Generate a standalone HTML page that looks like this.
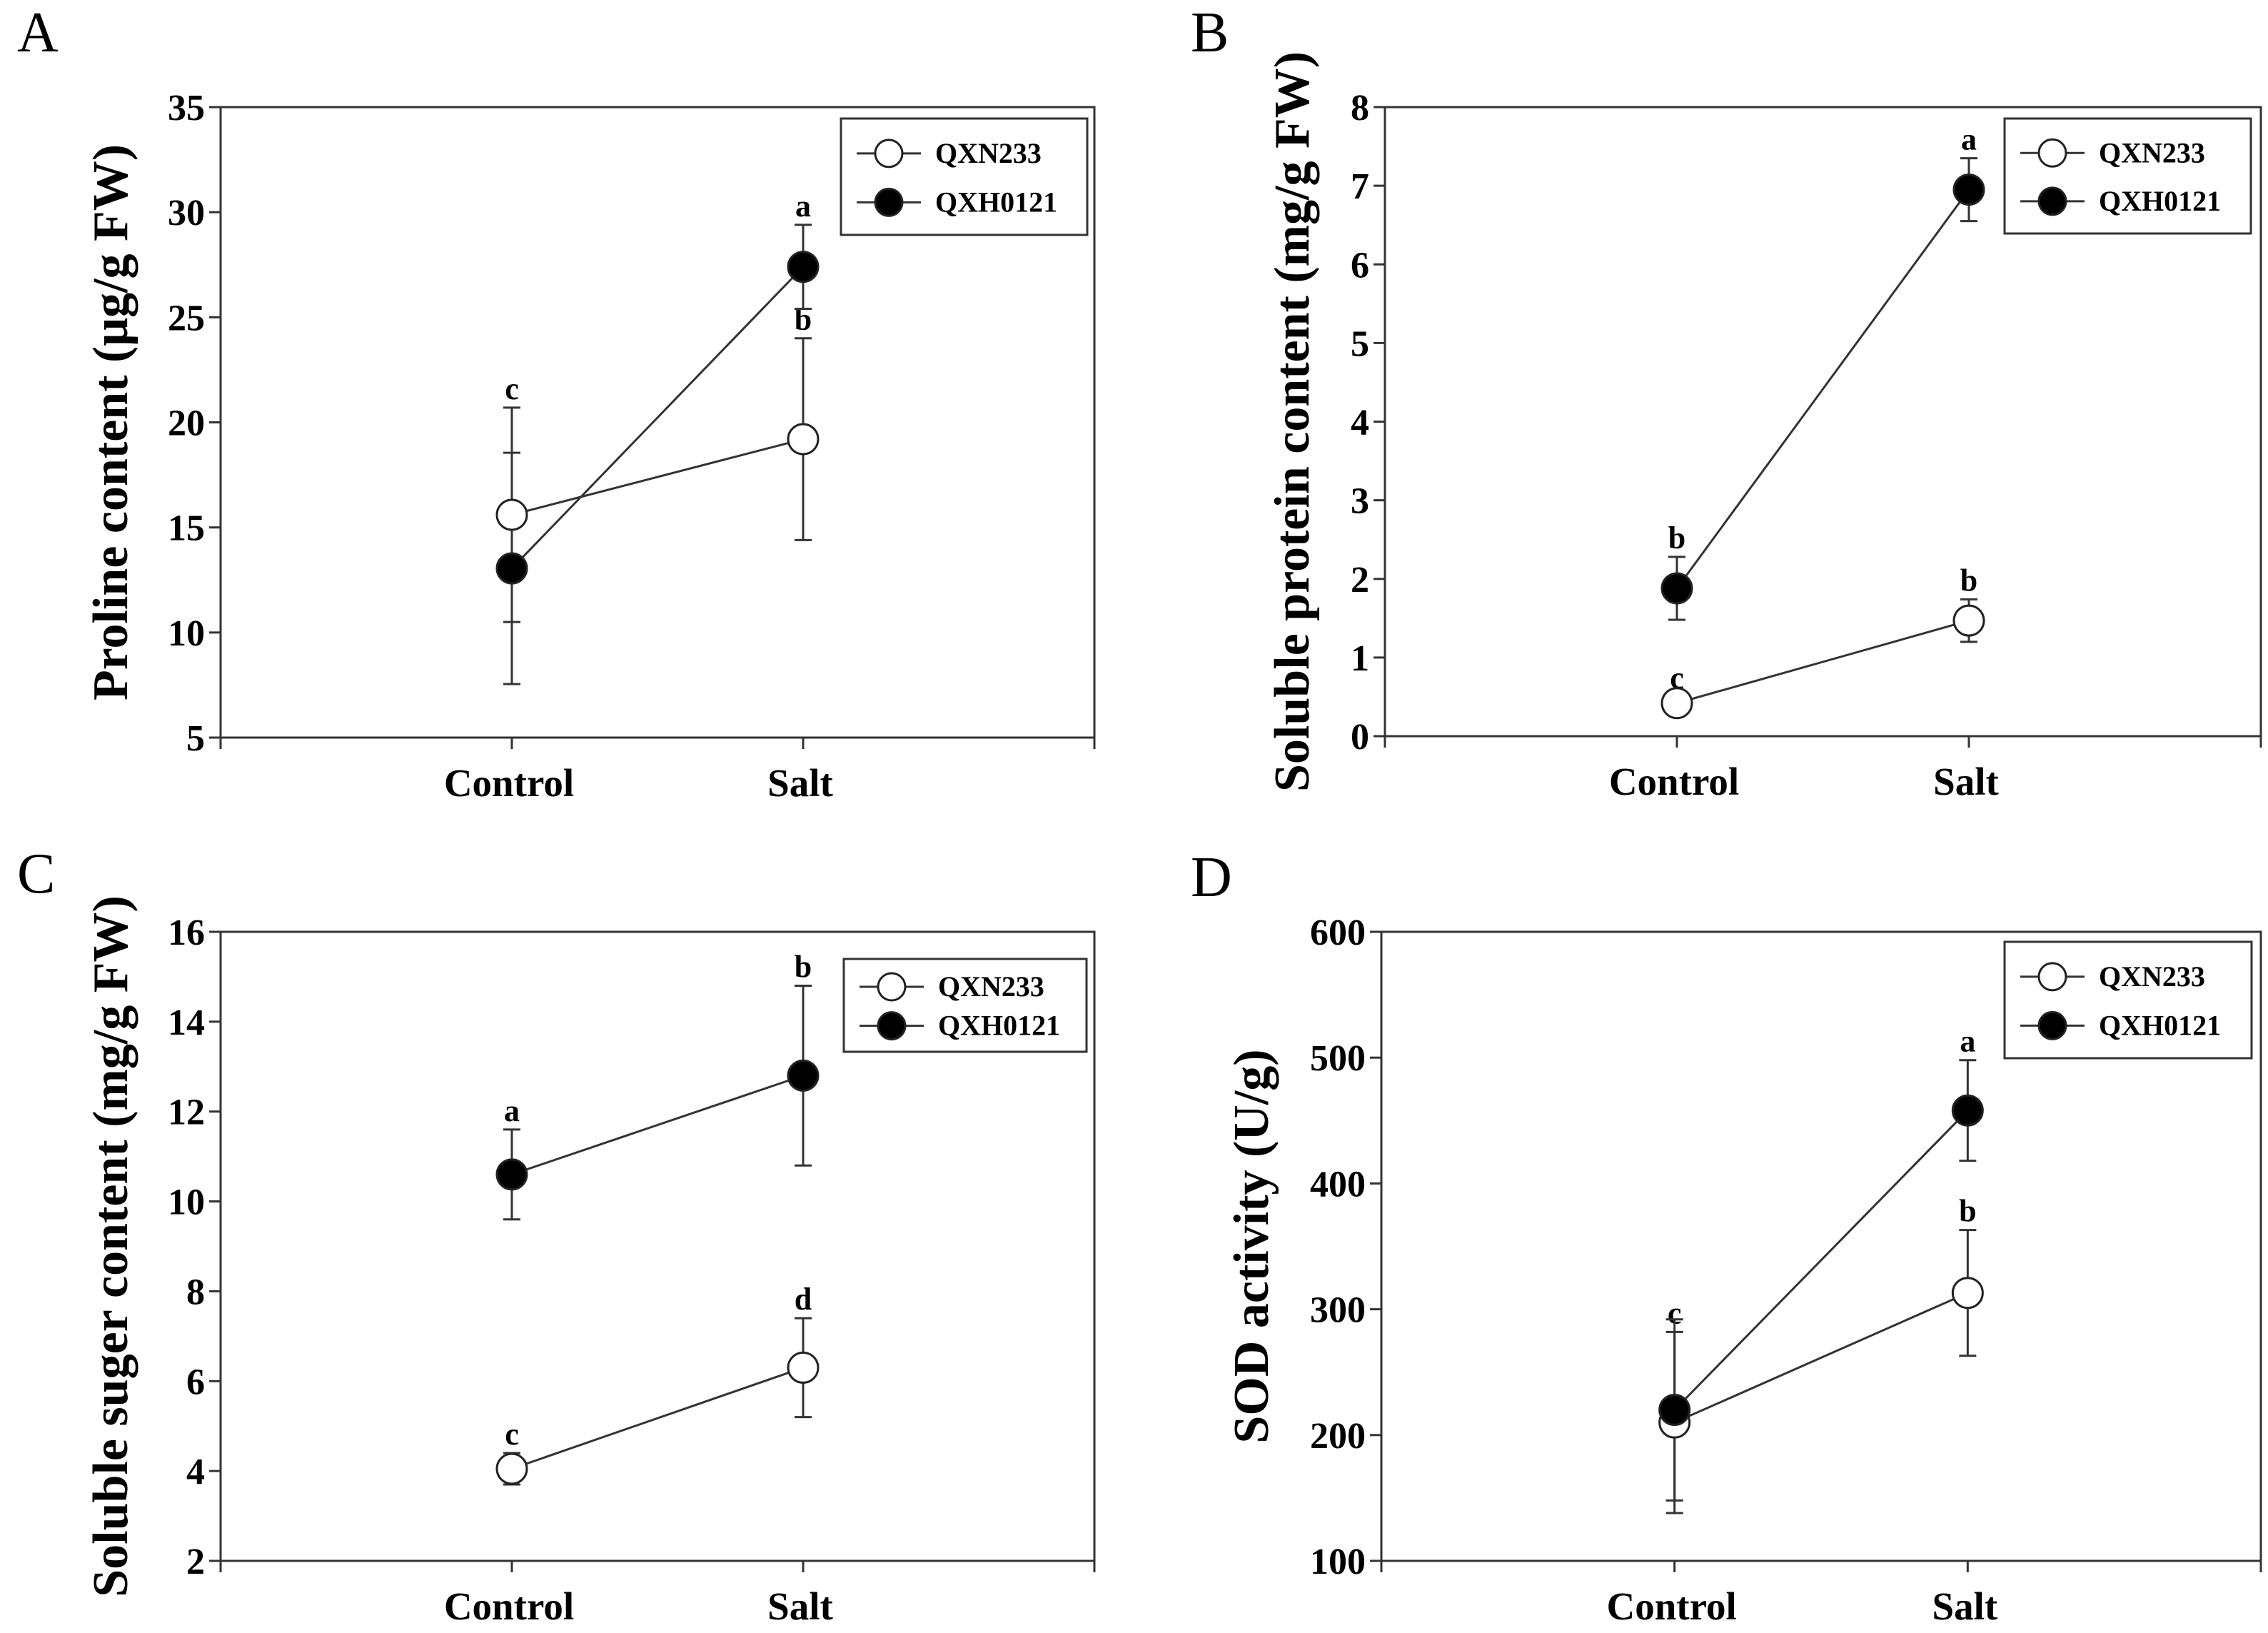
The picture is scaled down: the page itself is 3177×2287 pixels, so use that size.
<!DOCTYPE html>
<html><head><meta charset="utf-8">
<style>
html,body{margin:0;padding:0;background:#fff;}
svg{display:block;}
text{font-family:"Liberation Serif",serif;fill:#000;}
.tick{font-weight:bold;font-size:52px;}
.ttl{font-weight:bold;font-size:70px;}
.cat{font-weight:bold;font-size:55px;}
.leg{font-weight:bold;font-size:40px;}
.let{font-weight:bold;font-size:44px;}
.pl{font-size:80px;}
</style></head>
<body>
<svg id="fig" width="3177" height="2287" viewBox="0 0 3177 2287" xmlns="http://www.w3.org/2000/svg"></svg>
<script>
// Categories
const categories = ["Control","Salt"];
const seriesNames = ["QXN233","QXH0121"];

// Panel A: Proline
const aTicks = [5,10,15,20,25,30,35];
const aQXN = [15.6,19.2];
const aQXNerr = [5.1,4.8];
const aQXH = [13.05,27.4];
const aQXHerr = [5.5,2.0];
const aLettersQXN = ["c","b"];
const aLettersQXH = ["","a"];

// Panel B: Soluble protein
const bTicks = [0,1,2,3,4,5,6,7,8];
const bQXN = [0.42,1.47];
const bQXNerr = [0.08,0.27];
const bQXH = [1.88,6.95];
const bQXHerr = [0.4,0.4];
const bLettersQXN = ["c","b"];
const bLettersQXH = ["b","a"];

// Panel C: Soluble sugar
const cTicks = [2,4,6,8,10,12,14,16];
const cQXN = [4.05,6.3];
const cQXNerr = [0.35,1.1];
const cQXH = [10.6,12.8];
const cQXHerr = [1.0,2.0];
const cLettersQXN = ["c","d"];
const cLettersQXH = ["a","b"];

// Panel D: SOD
const dTicks = [100,200,300,400,500,600];
const dQXN = [210,313];
const dQXNerr = [72,50];
const dQXH = [220,458];
const dQXHerr = [72,40];
const dLettersQXN = ["c","b"];
const dLettersQXH = ["","a"];

const NS="http://www.w3.org/2000/svg";
const svg=document.getElementById('fig');
function mk(tag,attrs,parent){const e=document.createElementNS(NS,tag);for(const k in attrs)e.setAttribute(k,attrs[k]);(parent||svg).appendChild(e);return e;}

function panel(cfg){
  const g=mk('g',{});
  
  
  const {L,R,T,B}=cfg;
  const ymin=cfg.ticks[0], ymax=cfg.ticks[cfg.ticks.length-1];
  const y=v=>B-(v-ymin)/(ymax-ymin)*(B-T);
  const x=i=>L+(i+1)/3*(R-L);
  const pl=mk('text',{x:cfg.plx,y:cfg.ply,class:'pl'},g);pl.textContent=cfg.letter;
  
  
  const fr=mk('rect',{x:L,y:T,width:R-L,height:B-T,fill:'none',stroke:'#333',"stroke-width":3},g);
  
  
  cfg.ticks.forEach(t=>{
    mk('line',{x1:L-16,x2:L,y1:y(t),y2:y(t),stroke:'#333',"stroke-width":3},g);
    const tx=mk('text',{x:L-22,y:y(t)+18,class:'tick',"text-anchor":'end'},g);tx.textContent=t;
    
    
  });
  for(let i=-1;i<=2;i++){mk('line',{x1:x(i),x2:x(i),y1:B,y2:B+16,stroke:'#333',"stroke-width":3},g);}
  categories.forEach((c,i)=>{
    const tx=mk('text',{x:x(i)-4,y:B+82,class:'cat',"text-anchor":'middle'},g);tx.textContent=c;
    
    
  });
  const yt=mk('text',{x:0,y:0,class:'ttl',"text-anchor":'middle',transform:`translate(${cfg.tx},${(T+B)/2}) rotate(-90)`},g);
  yt.textContent=cfg.title;
  
  
  const series=[[cfg.qxn,cfg.qxnErr,'#fff',cfg.lq],[cfg.qxh,cfg.qxhErr,'#000',cfg.lh]];
  series.forEach(([vals,errs,fill,lets],si)=>{
    const sg=mk('g',{},g);
    
    
    mk('line',{x1:x(0),y1:y(vals[0]),x2:x(1),y2:y(vals[1]),stroke:'#333',"stroke-width":3},sg);
    vals.forEach((v,i)=>{
      const hi=y(v+errs[i]), lo=y(v-errs[i]);
      mk('line',{x1:x(i),x2:x(i),y1:hi,y2:lo,stroke:'#333',"stroke-width":3},sg);
      mk('line',{x1:x(i)-12,x2:x(i)+12,y1:hi,y2:hi,stroke:'#333',"stroke-width":3},sg);
      mk('line',{x1:x(i)-12,x2:x(i)+12,y1:lo,y2:lo,stroke:'#333',"stroke-width":3},sg);
      if(lets[i]){
        const lt=mk('text',{x:x(i),y:hi-12,class:'let',"text-anchor":'middle'},sg);lt.textContent=lets[i];
        
        
      }
    });
  });
  series.forEach(([vals,errs,fill],si)=>{
    vals.forEach((v,i)=>{
      const c=mk('circle',{cx:x(i),cy:y(v),r:21,fill:fill,stroke:'#222',"stroke-width":3},g);
      
      
    });
  });
  const lg=mk('g',{},g);
  
  
  const [lx,ly,lw,lh]=cfg.leg;
  mk('rect',{x:lx,y:ly,width:lw,height:lh,fill:'#fff',stroke:'#333',"stroke-width":3},lg);
  seriesNames.forEach((n,i)=>{
    const cy=ly+lh*(0.3+0.42*i);
    mk('line',{x1:lx+22,x2:lx+112,y1:cy,y2:cy,stroke:'#333',"stroke-width":3},lg);
    mk('circle',{cx:lx+67,cy:cy,r:19,fill:i?'#000':'#fff',stroke:'#222',"stroke-width":3},lg);
    const t=mk('text',{x:lx+132,y:cy+13,class:'leg'},lg);t.textContent=n;
    
    
  });
}

panel({name:'panel-a-proline',letter:'A',plx:24,ply:72,L:309,R:1533,T:150,B:1033,ticks:aTicks,
  title:'Proline content (\u03bcg/g FW)',tx:178,qxn:aQXN,qxnErr:aQXNerr,qxh:aQXH,qxhErr:aQXHerr,lq:aLettersQXN,lh:aLettersQXH,
  leg:[1178,166,345,163]});
panel({name:'panel-b-protein',letter:'B',plx:1668,ply:72,L:1940,R:3167,T:150,B:1031,ticks:bTicks,
  title:'Soluble protein content (mg/g FW)',tx:1833,qxn:bQXN,qxnErr:bQXNerr,qxh:bQXH,qxhErr:bQXHerr,lq:bLettersQXN,lh:bLettersQXH,
  leg:[2808,166,345,161]});
panel({name:'panel-c-sugar',letter:'C',plx:24,ply:1250,L:309,R:1533,T:1305,B:2186,ticks:cTicks,
  title:'Soluble suger content (mg/g FW)',tx:178,qxn:cQXN,qxnErr:cQXNerr,qxh:cQXH,qxhErr:cQXHerr,lq:cLettersQXN,lh:cLettersQXH,
  leg:[1182,1343,340,130]});
panel({name:'panel-d-sod',letter:'D',plx:1668,ply:1255,L:1935,R:3167,T:1305,B:2186,ticks:dTicks,
  title:'SOD activity (U/g)',tx:1776,qxn:dQXN,qxnErr:dQXNerr,qxh:dQXH,qxhErr:dQXHerr,lq:dLettersQXN,lh:dLettersQXH,
  leg:[2808,1319,346,163]});
</script>
</body></html>
